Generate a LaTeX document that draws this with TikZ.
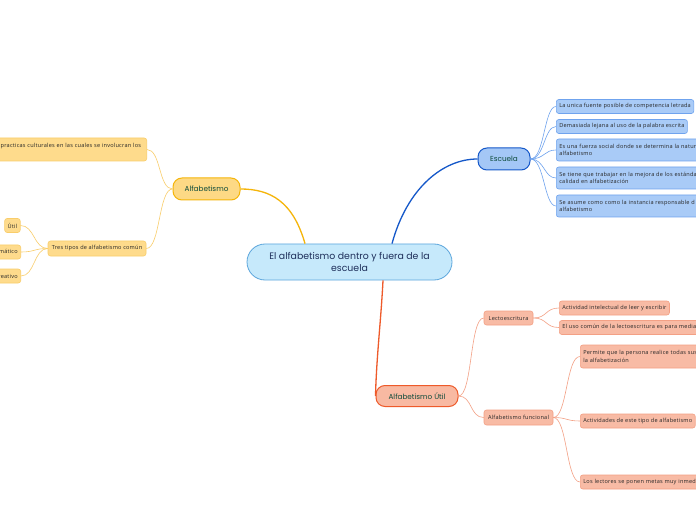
\documentclass[tikz,border=0pt]{standalone}
\usepackage{fontspec}
\setmainfont{Open Sans}
\newfontfamily\headfont{Poppins}
\newfontfamily\leaffont[LetterSpace=4]{Open Sans}
\definecolor{cfill}{HTML}{C6E9FB}
\definecolor{cline}{HTML}{5CA6DC}
\definecolor{efill}{HTML}{A4C7F6}
\definecolor{eline}{HTML}{1558C9}
\definecolor{elfill}{HTML}{A9CBF7}
\definecolor{elline}{HTML}{6FA3EE}
\definecolor{afill}{HTML}{FDD985}
\definecolor{aline}{HTML}{F5B50A}
\definecolor{alfill}{HTML}{FEDB8C}
\definecolor{alline}{HTML}{F9CD6A}
\definecolor{ufill}{HTML}{F8B9A2}
\definecolor{uline}{HTML}{EE5A2A}
\definecolor{ulfill}{HTML}{F8BBA5}
\definecolor{ulline}{HTML}{F3A085}
\definecolor{navy}{HTML}{1E2F5A}
\definecolor{dgreen}{HTML}{0E4B3B}
\begin{document}
\begin{tikzpicture}[x=1bp,y=-1bp,
  leaf/.style={draw, rounded corners=2.5bp, line width=0.6bp, inner xsep=3bp, inner ysep=0bp,
    minimum height=14bp, font=\leaffont\fontsize{5.6}{7.8}\selectfont, text=black!85, align=left},
  eleaf/.style={leaf, fill=elfill, draw=elline},
  aleaf/.style={leaf, fill=alfill, draw=alline},
  uleaf/.style={leaf, fill=ulfill, draw=ulline},
  branch/.style={draw, line width=1bp, rounded corners=9bp, inner sep=0bp,
    font=\headfont\fontsize{7.3}{8}\selectfont, text=dgreen},
  elink/.style={draw=elline, line width=0.6bp},
  alink/.style={draw=alline, line width=0.6bp},
  ulink/.style={draw=ulline, line width=0.6bp}]
\useasboundingbox (0,0) rectangle (696,520);
\clip (0,0) rectangle (696,520);
\fill[white] (0,0) rectangle (696,520);

% central
\node[draw=cline, fill=cfill, line width=0.8bp, rounded corners=18bp, minimum width=205bp,
  minimum height=36bp, align=center, text=navy, font=\headfont\fontsize{9.4}{12}\selectfont]
  (c) at (349.5,262) {El alfabetismo dentro y fuera de la\\escuela};

% Escuela branch
\node[branch, fill=efill, draw=eline, minimum width=52bp, minimum height=22bp] (esc) at (504,159) {Escuela};
\node[eleaf, anchor=west] (e1) at (556,106.5) {La unica fuente posible de competencia letrada};
\node[eleaf, anchor=west] (e2) at (556,126.5) {Demasiada lejana al uso de la palabra escrita};
\node[eleaf, anchor=west, minimum height=22bp, text width=170bp] (e3) at (556,150) {Es una fuerza social donde se determina la natur\\alfabetismo};
\node[eleaf, anchor=west, minimum height=22bp, text width=170bp] (e4) at (556,178) {Se tiene que trabajar en la mejora de los estánda\\calidad en alfabetización};
\node[eleaf, anchor=west, minimum height=22bp, text width=170bp] (e5) at (556,206) {Se asume como como la instancia responsable d\\alfabetismo};

\draw[draw=eline, line width=1.3bp] ([xshift=42.5bp]c.north) .. controls +(15,-55) and +(-35,0) .. (esc.west);
\foreach \n in {e1,e2,e3,e4,e5}
  \draw[elink] (esc.east) .. controls +(14,0) and +(-12,0) .. (\n.west);

% Alfabetismo branch
\node[branch, fill=afill, draw=aline, minimum width=67bp, minimum height=22bp] (alf) at (206.5,189) {Alfabetismo};
\node[aleaf, anchor=east, minimum height=23bp, text width=143bp] (a1) at (147,149.5) {practicas culturales en las cuales se involucran los\\~};
\node[aleaf, minimum width=98bp, minimum height=15bp] (a2) at (97,248.5) {Tres tipos de alfabetismo común};
\node[aleaf, anchor=east] (a21) at (20.5,225.5) {Útil};
\node[aleaf, anchor=east] (a22) at (21,252) {Pragmático};
\node[aleaf, anchor=east] (a23) at (21,276) {Creativo};

\draw[draw=aline, line width=1.3bp] ([xshift=-44.5bp]c.north) .. controls +(-12,-42) and +(30,0) .. (alf.east);
\draw[alink] (alf.west) .. controls +(-14,0) and +(14,0) .. (a1.east);
\draw[alink] (alf.west) .. controls +(-14,0) and +(14,0) .. (a2.east);
\foreach \n in {a21,a22,a23}
  \draw[alink] (a2.west) .. controls +(-14,0) and +(14,0) .. (\n.east);

% Alfabetismo Util branch
\node[branch, fill=ufill, draw=uline, minimum width=82bp, minimum height=21bp] (util) at (417,396) {Alfabetismo Útil};
\node[uleaf, minimum width=49bp] (u1) at (508.5,318) {Lectoescritura};
\node[uleaf, minimum width=69bp, minimum height=15bp] (u2) at (518.5,417.5) {Alfabetismo funcional};
\node[uleaf, anchor=west] (u11) at (559,308) {Actividad intelectual de leer y escribir};
\node[uleaf, anchor=west, text width=150bp] (u12) at (559,327.5) {El uso común de la lectoescritura es para media};
\node[uleaf, anchor=west, minimum height=23bp, text width=130bp] (u21) at (580,356.5) {Permite que la persona realice todas sus\\la alfabetización};
\node[uleaf, anchor=west] (u22) at (580,421) {Actividades de este tipo de alfabetismo};
\node[uleaf, anchor=west, text width=130bp] (u23) at (580,482) {Los lectores se ponen metas muy inmed};

\draw[draw=uline, line width=1.3bp] ([xshift=33.5bp]c.south) .. controls +(-2,40) and +(1,-40) .. (util.west);
\draw[ulink] (util.east) .. controls +(14,0) and +(-14,0) .. (u1.west);
\draw[ulink] (util.east) .. controls +(14,0) and +(-14,0) .. (u2.west);
\draw[ulink] (u1.east) .. controls +(14,0) and +(-14,0) .. (u11.west);
\draw[ulink] (u1.east) .. controls +(14,0) and +(-14,0) .. (u12.west);
\foreach \n in {u21,u22,u23}
  \draw[ulink] (u2.east) .. controls +(14,0) and +(-14,0) .. (\n.west);
\end{tikzpicture}
\end{document}
